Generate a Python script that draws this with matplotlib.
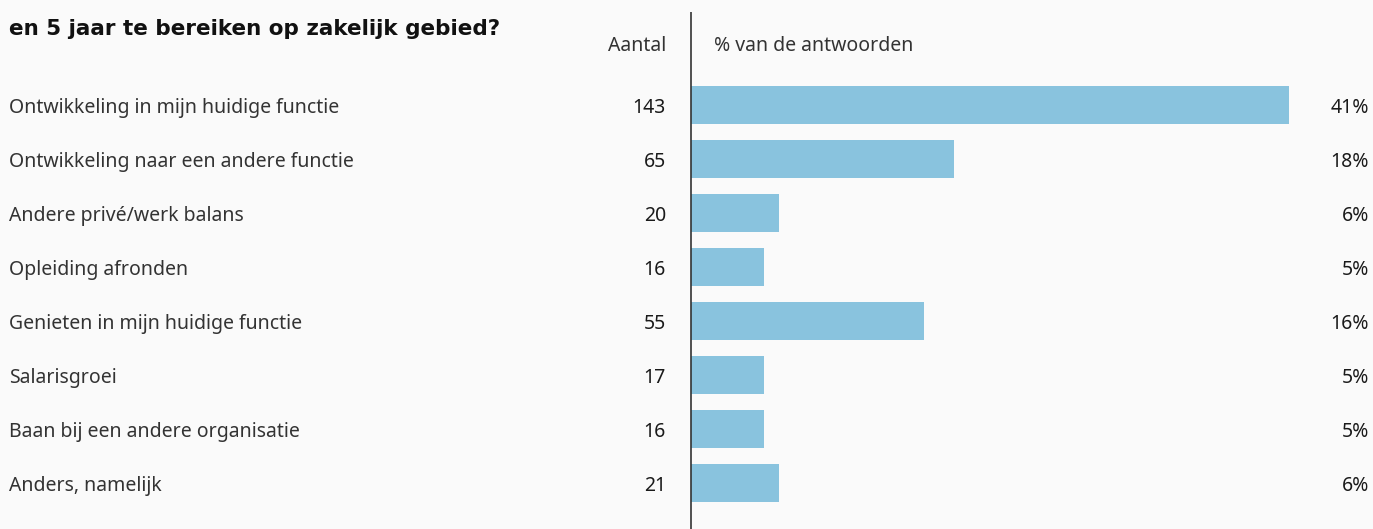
import matplotlib
matplotlib.use("Agg")
import matplotlib.pyplot as plt
from matplotlib.transforms import blended_transform_factory

categories = [
    "Ontwikkeling in mijn huidige functie",
    "Ontwikkeling naar een andere functie",
    "Andere privé/werk balans",
    "Opleiding afronden",
    "Genieten in mijn huidige functie",
    "Salarisgroei",
    "Baan bij een andere organisatie",
    "Anders, namelijk",
]
counts = [143, 65, 20, 16, 55, 17, 16, 21]
percents = [41, 18, 6, 5, 16, 5, 5, 6]
title = "en 5 jaar te bereiken op zakelijk gebied?"
header_count = "Aantal"
header_pct = "% van de antwoorden"

W, H = 1373, 529
bg = "#fafafa"
bar_color = "#89c3de"
text_color = "#1a1a1a"
label_color = "#333333"
font = ["Noto Sans", "DejaVu Sans"]

fig = plt.figure(figsize=(W / 100, H / 100), dpi=100, facecolor=bg)
x0, x1 = 691 / W, 1289 / W
ax = fig.add_axes([x0, 0, x1 - x0, 1])
ax.set_facecolor("none")
for s in ax.spines.values():
    s.set_visible(False)
ax.set_xticks([])
ax.set_yticks([])

rows = list(range(len(categories)))
ax.barh(rows, percents, height=0.70, color=bar_color, align="center")
ax.set_xlim(0, max(percents))
row0, step = 105, 54.0
ax.set_ylim((H - row0) / step, -row0 / step)

ax.plot([0, 0], [-(row0 - 12) / step, (H - row0) / step], color="#333333", lw=1.2,
        clip_on=False, solid_capstyle="butt")

tr = blended_transform_factory(fig.transFigure, ax.transData)
fs = 14
dy = 3.5 / step
for r, (c, n, p) in enumerate(zip(categories, counts, percents)):
    ax.text(9 / W, r + dy, c, transform=tr, ha="left", va="center", fontsize=fs,
            family=font, color=label_color)
    ax.text(666 / W, r + dy, str(n), transform=tr, ha="right", va="center", fontsize=fs,
            family=font, fontweight="medium", color=text_color)
    ax.text(1369 / W, r + dy, f"{p}%", transform=tr, ha="right", va="center", fontsize=fs,
            family=font, fontweight="medium", color=text_color)

hy = (46 - row0) / step
ax.text(666 / W, hy, header_count, transform=tr, ha="right", va="center",
        fontsize=fs, family=font, color=label_color)
ax.text(714 / W, hy, header_pct, transform=tr, ha="left", va="center",
        fontsize=fs, family=font, color=label_color)

fig.text(9 / W, 1 - 29 / H, title, ha="left", va="center", fontsize=15.5,
         fontweight="bold", family=["DejaVu Sans"], color="#111111")

fig.savefig("out.png", dpi=100, facecolor=bg)
